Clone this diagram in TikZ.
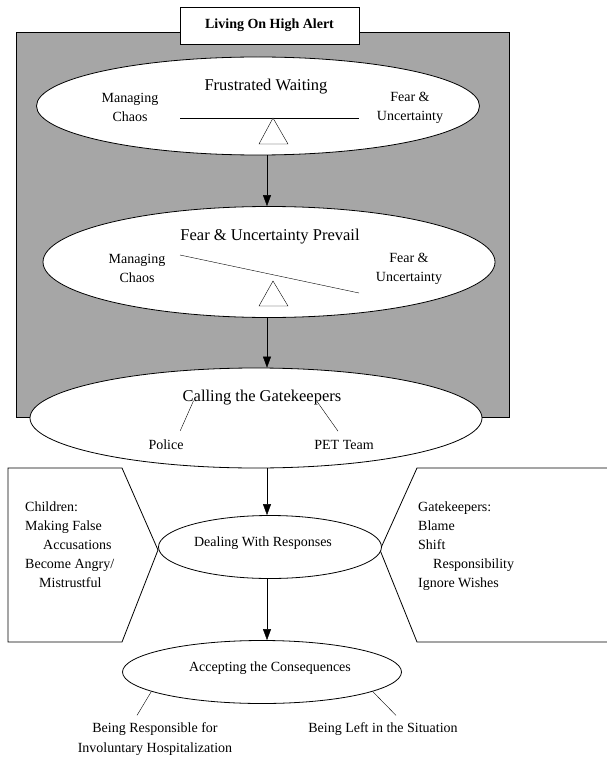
\documentclass[tikz,border=0pt]{standalone}
\usepackage{fontspec}
\setmainfont{Liberation Serif}
\usetikzlibrary{shapes.geometric,arrows.meta}
\definecolor{alertgray}{gray}{0.65}
\begin{document}
\begin{tikzpicture}[x=1pt,y=-1pt,>={Triangle[width=8pt,length=11pt]},
    oval/.style={draw,ellipse,fill=white,inner sep=0pt,line width=0.8pt},
    lbl/.style={inner sep=0pt,align=center,font=\fontsize{14}{19}\selectfont},
    headtxt/.style={inner sep=0pt,font=\fontsize{16.5}{20}\selectfont}]
      \useasboundingbox (0,0) rectangle (606,762);
      \fill[white] (0,0) rectangle (606,762);
      \draw[fill=alertgray,line width=0.8pt] (16,32) rectangle (509,417);
      \node[draw,fill=white,line width=0.8pt,minimum width=179pt,minimum height=37pt,
        font=\fontsize{14}{16}\selectfont\bfseries] (alert) at (269.5,25.5) {Living On High Alert};
      \coordinate (axis) at (267,0);
      \node[oval,minimum width=443pt,minimum height=98pt] (frust) at (258,106) {};
      \node[headtxt] (frustT) at (266,87) {Frustrated Waiting};
      \node[lbl] (chaosA) at (130,107.5) {Managing\\Chaos};
      \node[lbl] (fearA) at (410,107.5) {Fear \&\\Uncertainty};
      \draw (180,118) to (359,118);
      \draw[fill=white] (273,118) to (288,144) to (259,144) -- cycle;
      \node[oval,minimum width=452pt,minimum height=111pt] (prevail) at (269,262) {};
      \node[headtxt] (prevailT) at (270,237) {Fear \& Uncertainty Prevail};
      \node[lbl] (chaosB) at (137,268.5) {Managing\\Chaos};
      \node[lbl] (fearB) at (409,268.5) {Fear \&\\Uncertainty};
      \draw (180,255) to (359,293);
      \draw[fill=white] (273,281) to (288,306) to (259,306) -- cycle;
      \draw[->] (frust.south -| axis) to (prevail.north -| axis);
      \node[oval,minimum width=452pt,minimum height=100pt] (calling) at (256,418) {};
      \draw[->] (prevail.south -| axis) to (calling.north -| axis);
      \node[headtxt] (callingT) at (262,398) {Calling the Gatekeepers};
      \node[lbl] (police) at (166,445) {Police};
      \node[lbl] (pet) at (344,445) {PET Team};
      \draw ([xshift=11pt,yshift=5pt]callingT.south west) to ([xshift=-3.5pt,yshift=9pt]police.north east);
      \draw ([xshift=-25pt,yshift=5pt]callingT.south east) to ([xshift=-6pt,yshift=9pt]pet.north);
      \draw[line width=0.8pt] (8,468) -- (122,468) -- (158,550) -- (122,642) -- (8,642) -- cycle;
      \draw[line width=0.8pt] (615,468) -- (417,468) -- (380,550) -- (417,642) -- (615,642);
      \node[lbl,align=left,anchor=west] (children) at (25,545)
        {Children:\\Making False\\\hspace*{18pt}Accusations\\Become Angry/\\\hspace*{14pt}Mistrustful};
      \node[lbl,align=left,anchor=west] (keepers) at (418,546)
        {Gatekeepers:\\Blame\\Shift\\\hspace*{15pt}Responsibility\\Ignore Wishes};
      \node[oval,minimum width=223pt,minimum height=63pt] (dealing) at (270,547) {};
      \node[lbl] (dealingT) at (263,543) {Dealing With Responses};
      \draw[->] (calling.south -| axis) to (dealing.north -| axis);
      \node[oval,minimum width=279pt,minimum height=63pt] (accept) at (262,672) {};
      \node[lbl] (acceptT) at (270,668) {Accepting the Consequences};
      \draw[->] (dealing.south -| axis) to (accept.north -| axis);
      \node[lbl,font=\fontsize{14}{20}\selectfont] (resp) at (155,739) {Being Responsible for\\Involuntary Hospitalization};
      \node[lbl] (left) at (383,729) {Being Left in the Situation};
      \draw (accept.190) to ([xshift=-18pt,yshift=7pt]resp.north);
      \draw (accept.350) to ([xshift=13pt,yshift=7pt]left.north);
    \end{tikzpicture}
\end{document}
